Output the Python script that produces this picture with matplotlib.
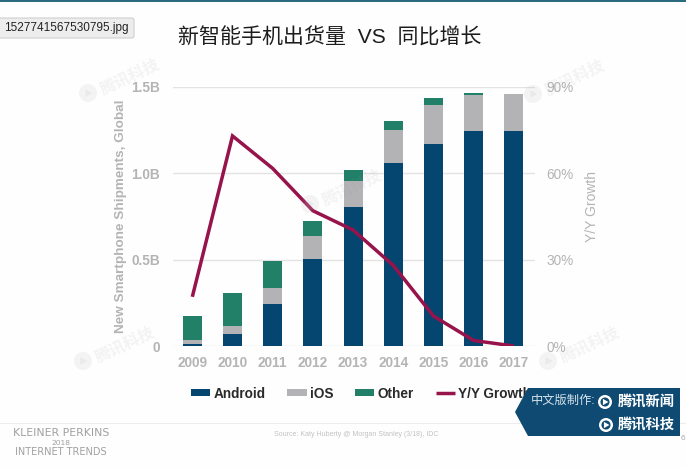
import matplotlib
matplotlib.use("Agg")
import matplotlib.pyplot as plt
import numpy as np
from matplotlib.patches import Polygon, Rectangle, Ellipse, FancyBboxPatch

plt.rcParams['font.family'] = ['Liberation Sans', 'Noto Sans CJK SC', 'DejaVu Sans']

# ====== Data ======
years = ["2009", "2010", "2011", "2012", "2013", "2014", "2015", "2016", "2017"]
android = [0.01, 0.071, 0.241, 0.504, 0.805, 1.062, 1.170, 1.243, 1.245]
ios = [0.025, 0.045, 0.095, 0.135, 0.153, 0.191, 0.228, 0.213, 0.216]
other = [0.141, 0.189, 0.158, 0.087, 0.059, 0.048, 0.038, 0.011, 0.0]
growth = [17.1, 73.0, 61.7, 47.0, 40.3, 28.0, 10.4, 1.9, 0.0]

left_ticks = [0, 0.5, 1.0, 1.5]
left_labels = ["0", "0.5B", "1.0B", "1.5B"]
right_ticks = [0, 30, 60, 90]
right_labels = ["0%", "30%", "60%", "90%"]

BLUE = "#04466f"
GREY = "#b3b2b4"
GREEN = "#228068"
RED = "#96134b"
TICK = "#b4b4b4"
W, H = 686, 468


def fx(px):
    return px / W


def fy(py):
    return 1 - py / H


def logo(cx, cy, r, color, bg, alpha=1.0, zorder=7):
    # round logo with a play mark, used on the banner and the watermarks
    fig.add_artist(Ellipse((fx(cx), fy(cy)), 2 * r / W, 2 * r / H, transform=fig.transFigure,
                           fc=color, ec="none", alpha=alpha, zorder=zorder))
    fig.add_artist(Ellipse((fx(cx), fy(cy)), 1.3 * r / W, 1.3 * r / H, transform=fig.transFigure,
                           fc=bg, ec="none", alpha=alpha, zorder=zorder))
    tri = [(fx(cx - 0.3 * r), fy(cy - 0.45 * r)), (fx(cx + 0.5 * r), fy(cy)),
           (fx(cx - 0.3 * r), fy(cy + 0.45 * r))]
    fig.add_artist(Polygon(tri, closed=True, transform=fig.transFigure, fc=color, ec="none",
                           alpha=alpha, zorder=zorder))


fig = plt.figure(figsize=(W / 100, H / 100), dpi=100, facecolor="#fefefe")
ax = fig.add_axes([fx(172.7), fy(346), (535 - 172.7) / W, 259 / H])
ax.set_facecolor("none")

x = np.arange(len(years))
android = np.array(android)
ios = np.array(ios)
other = np.array(other)

b1 = ax.bar(x, android, 0.475, color=BLUE, label="Android", zorder=3)
b2 = ax.bar(x, ios, 0.475, bottom=android, color=GREY, label="iOS", zorder=3)
b3 = ax.bar(x, other, 0.475, bottom=android + ios, color=GREEN, label="Other", zorder=3)

ax.set_xlim(-0.488, 8.525)
ax.set_ylim(0, 1.5)
ax.set_xticks(x)
ax.set_xticklabels(years)
ax.set_yticks(left_ticks)
ax.set_yticklabels(left_labels)
ax.grid(axis="y", color="#e3e3e3", lw=1, zorder=0)
ax.set_axisbelow(True)
ax.tick_params(axis="x", length=0, labelcolor=TICK, labelsize=9.8, pad=7)
ax.tick_params(axis="y", length=0, labelcolor=TICK, labelsize=9.8, pad=9)
for lab in ax.get_xticklabels() + ax.get_yticklabels():
    lab.set_fontweight("bold")
for s in ax.spines.values():
    s.set_visible(False)
ax.set_ylabel("New Smartphone Shipments, Global", color=TICK, fontsize=9.7, fontweight="bold")
ax.yaxis.set_label_coords(-0.126, 0.5)

ax2 = ax.twinx()
ax2.set_ylim(0, 90)
ax2.set_yticks(right_ticks)
ax2.set_yticklabels(right_labels)
ax2.tick_params(length=0, labelcolor=TICK, labelsize=9.8, pad=8)
for s in ax2.spines.values():
    s.set_visible(False)
ax2.set_ylabel("Y/Y Growth", color=TICK, fontsize=10)
ax2.yaxis.set_label_coords(1.138, 0.54)
line, = ax2.plot(x, growth, color=RED, lw=2.5, label="Y/Y Growth",
                 solid_joinstyle="miter", solid_capstyle="butt", zorder=4)

leg = fig.legend([b1, b2, b3, line], ["Android", "iOS", "Other", "Y/Y Growth"],
                 ncol=4, frameon=False, loc="center left",
                 bbox_to_anchor=(fx(179), fy(393.5)), prop={"size": 9.8, "weight": "bold"},
                 handlelength=1.4, handleheight=0.45, handletextpad=0.25,
                 columnspacing=1.6, labelcolor="#2a2a2a")
leg.set_zorder(5)

# ====== Slide furniture ======
fig.add_artist(Rectangle((0, fy(2)), 1, 2 / H, transform=fig.transFigure,
                         color="#2b6a80", lw=0))
fig.text(fx(330), fy(38), "新智能手机出货量  VS  同比增长", fontsize=15.1,
         ha="center", va="center", color="#1c1c1c")

fig.add_artist(FancyBboxPatch((fx(-4), fy(38)), 138 / W, 20 / H,
                              boxstyle="round,pad=0,rounding_size=0.004",
                              transform=fig.transFigure, fc="#ededed", ec="#cfcfcf",
                              lw=0.8, zorder=6))
fig.text(fx(4), fy(28.5), "1527741567530795.jpg", fontsize=8.5, ha="left",
         va="center", color="#222222", zorder=7)

fig.add_artist(Rectangle((0, fy(424)), 1, 1 / H, transform=fig.transFigure,
                         color="#ececec", lw=0))
for py, s, sp in [(433, "KLEINER PERKINS", 7.8), (443, "2018", 5.4), (452, "INTERNET TRENDS", 7.0)]:
    fig.text(fx(61), fy(py), s, fontsize=sp, ha="center", va="center", color="#a0a0a0",
             family="DejaVu Sans")
fig.text(fx(356), fy(434), "Source: Katy Huberty @ Morgan Stanley (3/18), IDC",
         fontsize=5, ha="center", va="center", color="#c2c2c2")
fig.text(fx(683), fy(439), "6", fontsize=6, ha="center", va="center", color="#aaaaaa")

# watermarks
for px, py in [(130, 77), (352, 188), (125, 345), (575, 78), (590, 345)]:
    fig.text(fx(px), fy(py), "腾讯科技", fontsize=11.5, rotation=25, ha="center",
             va="center", color="#9a9a9a", alpha=0.11, fontweight="bold", zorder=4)
    logo(px - 42, py + 16, 9, "#9a9a9a", "#fefefe", alpha=0.1, zorder=4)

# banner
banner = [(fx(528), fy(388)), (fx(680), fy(388)), (fx(680), fy(436)),
          (fx(528), fy(436)), (fx(515), fy(412))]
fig.add_artist(Polygon(banner, closed=True, transform=fig.transFigure, fc="#0e4a72",
                       ec="none", zorder=6))
fig.text(fx(531), fy(401), "中文版制作:", fontsize=8.8, color="#d8e4ec", ha="left",
         va="center", zorder=7)
fig.text(fx(618), fy(402), "腾讯新闻", fontsize=10.3, color="white", ha="left", va="center",
         fontweight="bold", zorder=7)
fig.text(fx(618), fy(425), "腾讯科技", fontsize=10.3, color="white", ha="left", va="center",
         fontweight="bold", zorder=7)
logo(605, 402, 7, "white", "#0e4a72")
logo(606, 425, 7, "white", "#0e4a72")

fig.savefig("out.png", dpi=100, facecolor=fig.get_facecolor())
